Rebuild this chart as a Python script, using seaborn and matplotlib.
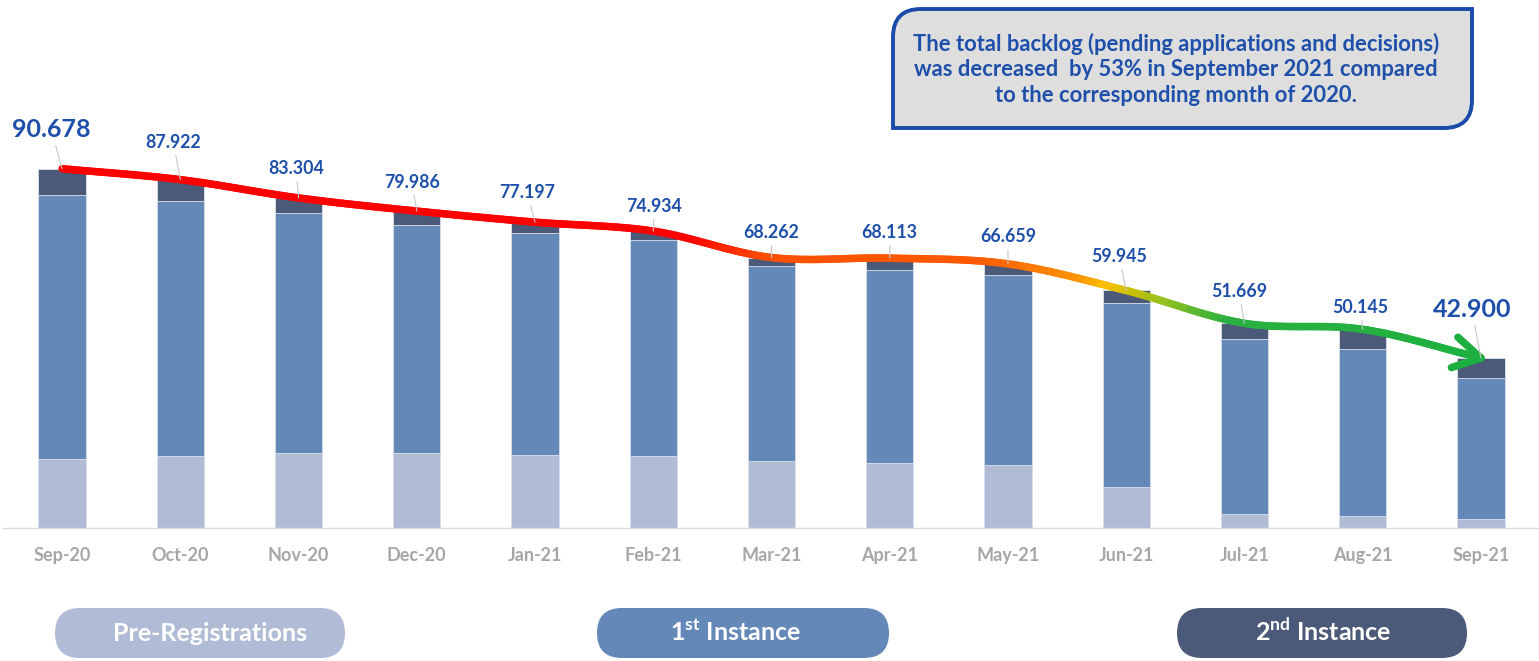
import numpy as np
import pandas as pd
import matplotlib
matplotlib.use("Agg")
import matplotlib.pyplot as plt
import seaborn as sns
from matplotlib.collections import LineCollection
from matplotlib.colors import LinearSegmentedColormap
from matplotlib.patches import FancyBboxPatch, PathPatch
from matplotlib.path import Path
from matplotlib.transforms import IdentityTransform

# ---------------- data ----------------
months = ["Sep-20", "Oct-20", "Nov-20", "Dec-20", "Jan-21", "Feb-21", "Mar-21",
          "Apr-21", "May-21", "Jun-21", "Jul-21", "Aug-21", "Sep-21"]
totals = [90.678, 87.922, 83.304, 79.986, 77.197, 74.934, 68.262,
          68.113, 66.659, 59.945, 51.669, 50.145, 42.900]
pre_registrations = [17.4, 18.1, 18.9, 18.9, 18.3, 18.2, 16.8, 16.5, 16.0, 10.3, 3.6, 3.1, 2.3]
first_instance = [66.7, 64.5, 60.6, 57.5, 56.1, 54.5, 49.4, 48.7, 47.9, 46.5, 44.0, 42.1, 35.6]
second_instance = [6.6, 5.3, 3.8, 3.6, 2.8, 2.2, 2.1, 2.9, 2.8, 3.1, 4.1, 4.9, 5.0]
total_labels = ["90.678", "87.922", "83.304", "79.986", "77.197", "74.934", "68.262",
                "68.113", "66.659", "59.945", "51.669", "50.145", "42.900"]
legend_labels = ["Pre-Registrations", r"1$^{\mathregular{st}}$ Instance", r"2$^{\mathregular{nd}}$ Instance"]
callout_lines = ["The total backlog (pending applications and decisions)",
                 "was decreased  by 53% in September 2021 compared",
                 "to the corresponding month of 2020."]

# ---------------- style ----------------
LIGHT = "#B0BCD5"
MID = "#6488B8"
DARK = "#4A5A78"
LABEL_BLUE = "#1E4FAA"
AXIS_GRAY = "#D9D9D9"
TICK_GRAY = "#A6A6A6"

sns.set_theme(style="white")
plt.rcParams["font.family"] = ["Lato", "DejaVu Sans"]

W, H = 1539, 661
fig = plt.figure(figsize=(W / 100, H / 100), dpi=100)
ax = fig.add_axes([3 / W, 133 / H, (1540 - 3) / W, 528 / H])

df = pd.DataFrame({
    "month": months,
    "total": totals,
    "pre_first": np.array(pre_registrations) + np.array(first_instance),
    "pre": pre_registrations,
})

bar_kw = dict(width=0.40, saturation=1, errorbar=None, ax=ax,
              edgecolor="#DCE2EC", linewidth=0.6)
sns.barplot(data=df, x="month", y="total", color=DARK, **bar_kw)
sns.barplot(data=df, x="month", y="pre_first", color=MID, **bar_kw)
sns.barplot(data=df, x="month", y="pre", color=LIGHT, **bar_kw)

ax.set_xlim(-0.5, len(months) - 0.5)
ax.set_ylim(0, 528 / 3.962)
ax.set_xlabel("")
ax.set_ylabel("")
ax.set_yticks([])
for s in ["left", "right", "top"]:
    ax.spines[s].set_visible(False)
ax.spines["bottom"].set_color(AXIS_GRAY)
ax.spines["bottom"].set_linewidth(1.0)
ax.set_xticks(range(len(months)))
ax.set_xticklabels(months, fontsize=13, fontweight="bold", color=TICK_GRAY)
ax.tick_params(axis="x", which="major", length=0, pad=14)
ax.set_xticks(np.arange(-0.5, len(months), 1.0), minor=True)
ax.tick_params(axis="x", which="minor", length=6, color=AXIS_GRAY, width=1)

# ---------------- smooth gradient trend line ----------------
def catmull_rom(xs, ys, n=40):
    P = np.column_stack([xs, ys]).astype(float)
    P = np.vstack([2 * P[0] - P[1], P, 2 * P[-1] - P[-2]])
    out = []
    t = np.linspace(0, 1, n, endpoint=False)[:, None]
    for i in range(1, len(P) - 2):
        p0, p1, p2, p3 = P[i - 1], P[i], P[i + 1], P[i + 2]
        seg = 0.5 * ((2 * p1) + (-p0 + p2) * t + (2 * p0 - 5 * p1 + 4 * p2 - p3) * t ** 2
                     + (-p0 + 3 * p1 - 3 * p2 + p3) * t ** 3)
        out.append(seg)
    out.append(P[-2][None, :])
    return np.vstack(out)

xs = np.arange(len(totals))
curve = catmull_rom(xs, totals)
stops = [(0.0, "#FF0000"), (5.3, "#FF0000"), (6.0, "#FF5000"), (7.76, "#FF5A00"),
         (8.6, "#FF9000"), (8.86, "#FFC000"), (9.03, "#D4C000"), (9.37, "#90C020"),
         (9.88, "#2AB040"), (12.0, "#1DB040")]
xmax = len(totals) - 1
cmap = LinearSegmentedColormap.from_list("trend", [(p / xmax, c) for p, c in stops])
segs = np.stack([curve[:-1], curve[1:]], axis=1)
mids = (curve[:-1, 0] + curve[1:, 0]) / 2
lc = LineCollection(segs, colors=cmap(mids / xmax), linewidths=5.4,
                    capstyle="round", joinstyle="round", zorder=5)
ax.add_collection(lc)

# arrow head (open chevron) at the end of the curve
disp = ax.transData.transform(curve)
tip = disp[-1]
d = disp[-1] - disp[-5]
d = d / np.linalg.norm(d)
back = -d
for ang in (32, -28):
    a = np.deg2rad(ang)
    r = np.array([back[0] * np.cos(a) - back[1] * np.sin(a),
                  back[0] * np.sin(a) + back[1] * np.cos(a)])
    end = tip + r * 31
    pts = ax.transData.inverted().transform(np.vstack([tip, end]))
    ax.plot(pts[:, 0], pts[:, 1], color="#1DB040", lw=5.4,
            solid_capstyle="round", zorder=6)

# ---------------- value labels with leader lines ----------------
label_dx = [-11, -7, -2.5, -5, -8, 1, 0, 0, 0, -7, -5.5, -2, -9]
label_dy = [39, 37, 29, 29, 30, 25, 25, 26, 27, 34, 32, 22, 49]
for i, (v, lab) in enumerate(zip(totals, total_labels)):
    big = i in (0, len(totals) - 1)
    ax.annotate(lab, xy=(i, v), xytext=(label_dx[i] * 0.72, label_dy[i] * 0.72),
                textcoords="offset points", ha="center", va="center",
                fontsize=18 if big else 12.8, fontweight="bold", color=LABEL_BLUE,
                annotation_clip=False, zorder=7,
                arrowprops=dict(arrowstyle="-", color="#C8C8C8", lw=0.8,
                                shrinkA=1, shrinkB=0))

# ---------------- callout box ----------------
L, R, T, B = 893, 1472, H - 9, H - 128
rr = 28
verts = [(L, B), (L, T - rr), (L, T), (L + rr, T), (R, T), (R, B + rr),
         (R, B), (R - rr, B), (L, B)]
codes = [Path.MOVETO, Path.LINETO, Path.CURVE3, Path.CURVE3, Path.LINETO,
         Path.LINETO, Path.CURVE3, Path.CURVE3, Path.CLOSEPOLY]
box = PathPatch(Path(verts, codes), facecolor="#DEDEDE", edgecolor="#1A4BAA",
                lw=2.8, transform=IdentityTransform(), zorder=10)
fig.add_artist(box)
for k, line in enumerate(callout_lines):
    fig.text(1176 / W, (H - (44 + 26 * k)) / H, line, ha="center", va="center",
             fontsize=15.8, fontweight="bold", color=LABEL_BLUE, zorder=11)

# ---------------- legend pills ----------------
pills = [(55, 345, LIGHT, 210), (597, 889, MID, 735), (1177, 1467, DARK, 1323)]
for (x0, x1, col, tx), lab in zip(pills, legend_labels):
    p = FancyBboxPatch((x0, H - 658), x1 - x0, 50,
                       boxstyle="round,pad=0,rounding_size=25",
                       transform=IdentityTransform(), facecolor=col, edgecolor="none")
    fig.add_artist(p)
    fig.text(tx / W, (H - 641) / H, lab, ha="center", va="baseline",
             fontsize=18, fontweight="bold", color="white")

fig.savefig("out.png", dpi=100, facecolor="white")
